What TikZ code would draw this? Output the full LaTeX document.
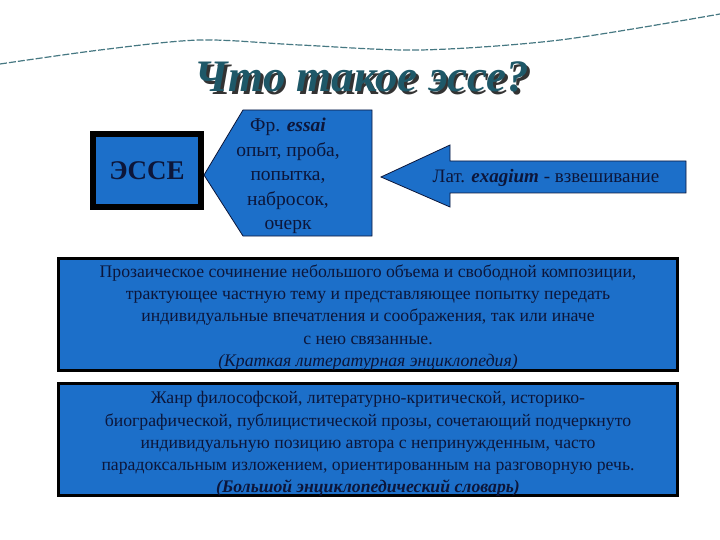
\documentclass[tikz,border=0pt]{standalone}
\usepackage{fontspec}
\setmainfont{Liberation Serif}
\usepackage{tikz}
\usetikzlibrary{calc}
\definecolor{essblue}{RGB}{28,111,201}
\definecolor{esstext}{RGB}{12,22,58}
\definecolor{esstitle}{RGB}{30,88,104}
\definecolor{esswave}{RGB}{70,120,130}
\tikzset{
	bluefill/.style={fill=essblue,draw=esstext,line width=0.8pt},
	deftext/.style={text=esstext,align=center,font=\fontsize{17.7}{22.2}\selectfont},
	defbox/.style={fill=essblue,draw=black,line width=3pt,minimum width=619pt,minimum height=112pt,inner sep=0pt},
	titlefont/.style={font=\fontsize{45}{45}\selectfont\bfseries\itshape}
}

\begin{document}
\begin{tikzpicture}[x=1pt,y=-1pt]
	\useasboundingbox (0,0) rectangle (720,540);
	\draw[esswave,line width=1.2pt,dash pattern=on 7pt off 2pt] plot[smooth] coordinates {(0,64) (100,50) (200,40) (300,45) (420,50) (560,40) (720,14)};
	\node[titlefont,text=black!80] (titleshadow) at (364.5,79.5) {Что такое эссе?};
	\node[titlefont,text=esstitle] (title) at (362,77) {Что такое эссе?};
	\node[fill=essblue,draw=black,line width=6pt,minimum width=108pt,minimum height=73pt,inner sep=0pt,font=\fontsize{27}{27}\selectfont\bfseries,text=esstext] (esse) at (147,170.5) {ЭССЕ};
	\coordinate (frtip) at (204,175);
	\draw[bluefill] (frtip) -- (243,110) -- (372,110) -- (372,236) -- (243,236) -- cycle;
	\node[text=esstext,align=center,font=\fontsize{19.5}{24.5}\selectfont] (frtext) at (288,176) {Фр. \textbf{\textit{essai}}\\опыт, проба,\\попытка,\\набросок,\\очерк};
	\coordinate (lattip) at (381,177);
	\draw[bluefill] (lattip) -- (450,145) -- (450,161) -- (686,161) -- (686,193) -- (450,193) -- (450,207) -- cycle;
	\node[text=esstext,font=\fontsize{19}{19}\selectfont] (lattext) at (546,178) {Лат. \textbf{\textit{exagium}} - взвешивание};
	\node[defbox] (defone) at (368,314.5) {};
	\node[deftext] (onetext) at ($(defone.center)+(0,3)$) {Прозаическое сочинение небольшого объема и свободной композиции,\\трактующее частную тему и представляющее попытку передать\\индивидуальные впечатления и соображения, так или иначе\\с нею связанные.\\\textit{(Краткая литературная энциклопедия)}};
	\node[defbox] (deftwo) at (368,439.5) {};
	\node[deftext] (twotext) at ($(deftwo.center)+(0,4.5)$) {Жанр философской, литературно-критической, историко-\\биографической, публицистической прозы, сочетающий подчеркнуто\\индивидуальную позицию автора с непринужденным, часто\\парадоксальным изложением, ориентированным на разговорную речь.\\\textbf{\textit{(Большой энциклопедический словарь)}}};
\end{tikzpicture}
\end{document}
